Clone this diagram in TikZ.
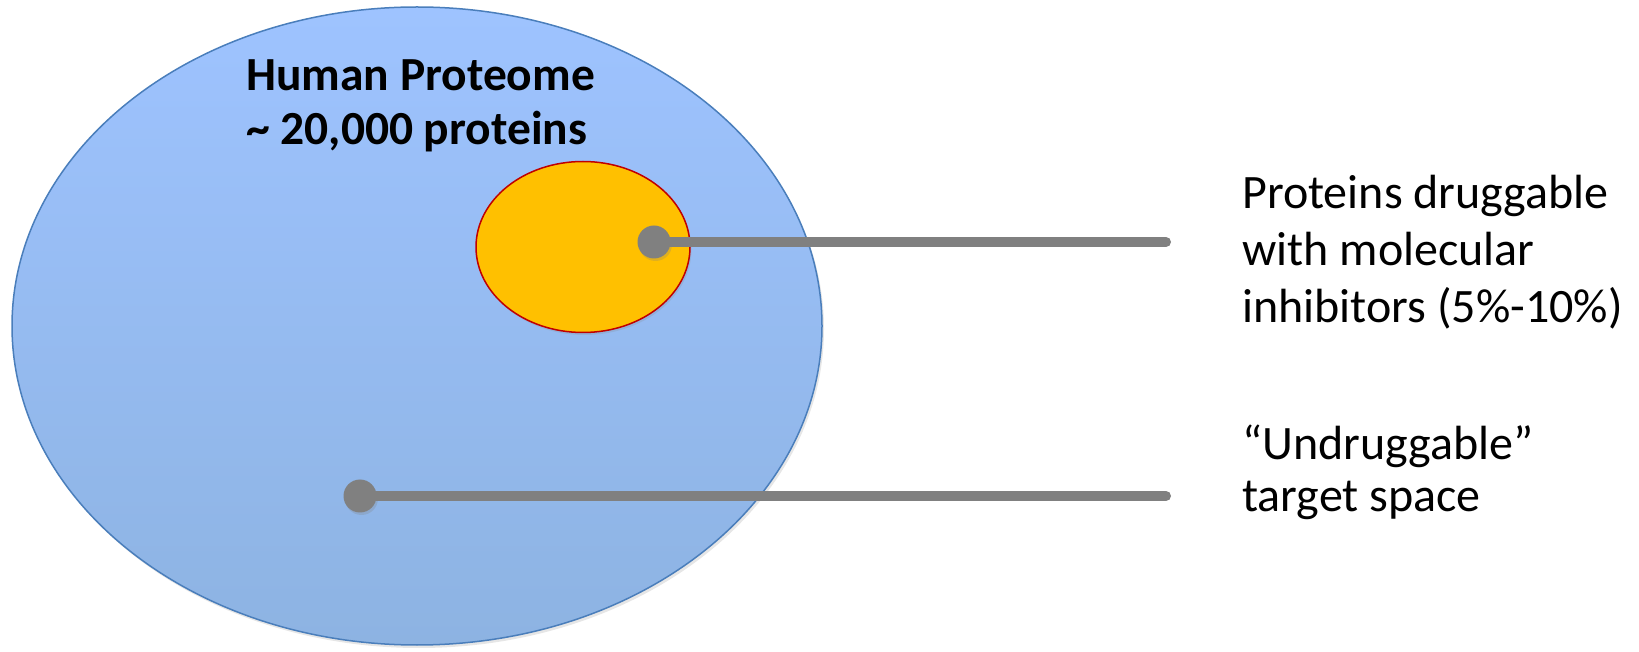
\documentclass[tikz,border=0pt]{standalone}
\usepackage{fontspec}
\setmainfont{Carlito}
\usepackage{tikz}
\usetikzlibrary{positioning, shapes.geometric, shadows}
\definecolor{proteomeTop}{RGB}{158,195,255}
\definecolor{proteomeBottom}{RGB}{141,179,226}
\definecolor{proteomeEdge}{RGB}{74,126,187}
\definecolor{druggableFill}{RGB}{255,192,0}
\definecolor{druggableEdge}{RGB}{192,0,0}
\definecolor{pointerGrey}{RGB}{128,128,128}
\begin{document}
\begin{tikzpicture}[x=1pt,y=1pt,set/.style={ellipse,inner sep=0pt,line width=1.5pt},dot/.style={circle,fill=pointerGrey,inner sep=0pt,minimum size=33pt,drop shadow={opacity=.25,shadow xshift=1.5pt,shadow yshift=-2.5pt}},pointer/.style={pointerGrey,line width=10pt,line cap=round},label/.style={anchor=base west,align=left,inner sep=0pt,font=\fontsize{48}{57}\selectfont}]
\useasboundingbox (0,0) rectangle (1639,651);
\node[set,draw=proteomeEdge,top color=proteomeTop,bottom color=proteomeBottom,minimum width=810pt,minimum height=638pt,drop shadow={opacity=.2,shadow xshift=2pt,shadow yshift=-3pt}] (proteome) at (417,325){};
\node[set,draw=druggableEdge,fill=druggableFill,minimum width=214pt,minimum height=171pt,drop shadow={opacity=.2,shadow xshift=1.5pt,shadow yshift=-2.5pt}] (druggable) at (583,404){};
\node[anchor=base west,align=left,inner sep=0pt,font=\fontsize{47.5}{54}\selectfont\bfseries] (title) at (246,506){Human Proteome\\\textasciitilde{} 20,000 proteins};
\node[label] (druglabel) at (1242,328){Proteins druggable\\with molecular\\inhibitors (5\%-10\%)};
\node[label,font=\fontsize{48}{52}\selectfont] (undruglabel) at (1242,139){“Undruggable”\\target space};
\node[dot] (drugdot) at (654,409){};
\node[dot] (undrugdot) at (360,155){};
\coordinate (drugend) at (1166,409);
\coordinate (undrugend) at (1166,155);
\draw[pointer] (drugdot.center) -- (drugend); \draw[pointer] (undrugdot.center) -- (undrugend);
\end{tikzpicture}
\end{document}
